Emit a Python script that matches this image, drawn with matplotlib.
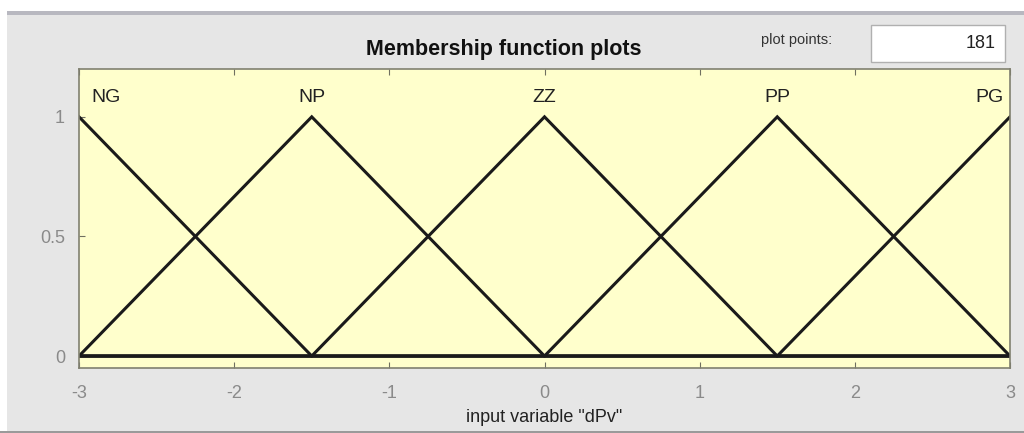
import numpy as np
import matplotlib
matplotlib.use("Agg")
import matplotlib.pyplot as plt
from matplotlib.patches import Rectangle

plt.rcParams['font.family'] = ['Liberation Sans', 'DejaVu Sans']
plt.rcParams['axes.unicode_minus'] = False

# Membership functions (triangular: a, b, c)
mf_names = ["NG", "NP", "ZZ", "PP", "PG"]
mf_a = [-4.5, -3.0, -1.5, 0.0, 1.5]
mf_b = [-3.0, -1.5, 0.0, 1.5, 3.0]
mf_c = [-1.5, 0.0, 1.5, 3.0, 4.5]
x_range = [-3, 3]
n_points = 181
xticks = [-3, -2, -1, 0, 1, 2, 3]
yticks = [0, 0.5, 1]
ytick_labels = ["0", "0.5", "1"]

W, H = 1024, 433
fig = plt.figure(figsize=(W / 100, H / 100), dpi=100)
fig.patch.set_facecolor('#e6e6e6')

# window decorations
fig.patches.append(Rectangle((0, 1 - 11 / H), 1, 11 / H, transform=fig.transFigure,
                             facecolor='white', edgecolor='none', zorder=0))
fig.patches.append(Rectangle((0, 1 - 15 / H), 1, 4 / H, transform=fig.transFigure,
                             facecolor='#b8b8c0', edgecolor='none', zorder=0))
fig.patches.append(Rectangle((0, 0), 7 / W, 1 - 11 / H, transform=fig.transFigure,
                             facecolor='white', edgecolor='none', zorder=0))
fig.patches.append(Rectangle((0, 0), 1, 2 / H, transform=fig.transFigure,
                             facecolor='#9a9a9a', edgecolor='none', zorder=0))

left, right, top, bottom = 79, 1010, 69, 368
ax = fig.add_axes([left / W, 1 - bottom / H, (right - left) / W, (bottom - top) / H])
ax.set_facecolor('#ffffcc')

x = np.linspace(x_range[0], x_range[1], n_points)
for name, a, b, c in zip(mf_names, mf_a, mf_b, mf_c):
    y = np.interp(x, [a, b, c], [0, 1, 0])
    ax.plot(x, y, color='#1a1a1a', lw=2.2, solid_joinstyle='miter')
    if b <= x_range[0]:
        ax.text(b + 0.08, 1.045, name, ha='left', va='bottom', fontsize=14, color='#222222')
    elif b >= x_range[1]:
        ax.text(b - 0.04, 1.045, name, ha='right', va='bottom', fontsize=14, color='#222222')
    else:
        ax.text(b, 1.045, name, ha='center', va='bottom', fontsize=14, color='#222222')

ax.set_xlim(x_range)
ax.set_ylim(-0.05, 1.2)
ax.set_xticks(xticks)
ax.set_yticks(yticks)
ax.set_yticklabels(ytick_labels)
ax.tick_params(direction='in', top=True, right=False, length=4, color='#707060',
               labelcolor='#8a8a8a', labelsize=13, pad=10)
ax.tick_params(axis='x', pad=12)
for s in ax.spines.values():
    s.set_color('#808070')
    s.set_linewidth(1.2)

ax.set_xlabel('input variable "dPv"', fontsize=13, color='#222222', labelpad=5)

fig.text(504 / W, 1 - 49 / H, 'Membership function plots', ha='center', va='center',
         fontsize=15.5, fontweight='bold', color='#111111')
fig.text(797 / W, 1 - 40 / H, 'plot points:', ha='center', va='center',
         fontsize=10.5, color='#333333')
fig.patches.append(Rectangle((871 / W, 1 - 62 / H), (1005 - 871) / W, (62 - 25) / H,
                             transform=fig.transFigure, facecolor='white',
                             edgecolor='#b0b0b0', lw=1, zorder=1))
fig.text(996 / W, 1 - 44 / H, '181', ha='right', va='center', fontsize=13, color='#222222')

fig.savefig('out.png', dpi=100, facecolor=fig.get_facecolor())
